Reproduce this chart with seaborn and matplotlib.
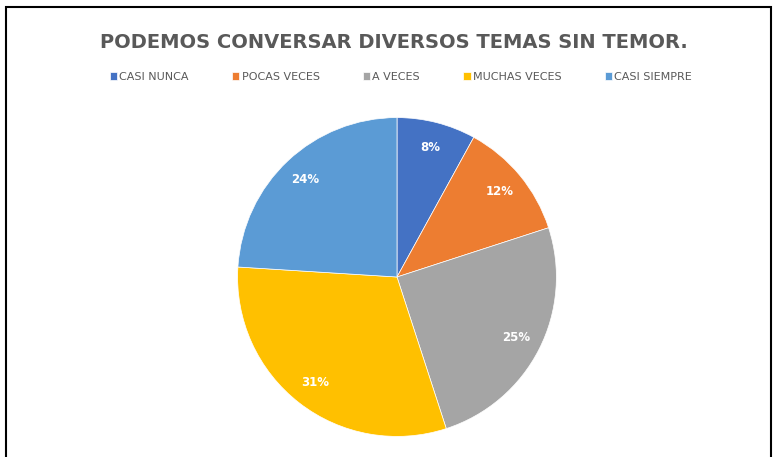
import numpy as np
import pandas as pd
import matplotlib
matplotlib.use("Agg")
import matplotlib.pyplot as plt
import seaborn as sns
from matplotlib.patches import Rectangle

### Data

categories = ["CASI NUNCA", "POCAS VECES", "A VECES", "MUCHAS VECES", "CASI SIEMPRE"]
percentages = [8, 12, 25, 31, 24]
colors = ["#4472C4", "#ED7D31", "#A5A5A5", "#FFC000", "#5B9BD5"]
title = "PODEMOS CONVERSAR DIVERSOS TEMAS SIN TEMOR."

### Plot

sns.set_style("white")
plt.rcParams["font.family"] = ["DejaVu Sans"]

W, H = 774, 457
fig = plt.figure(figsize=(W / 100, H / 100), dpi=100)

# pie centre (397, 277) px, radius ~161 px
cx, cy, r = 397, 277, 161
ax = fig.add_axes([(cx - r) / W, (H - cy - r) / H, 2 * r / W, 2 * r / H])

wedges, texts, autotexts = ax.pie(
    percentages,
    colors=sns.color_palette(colors),
    startangle=90,
    counterclock=False,
    autopct=lambda p: f"{p:.0f}%",
    pctdistance=0.84,
    wedgeprops=dict(edgecolor="white", linewidth=0.5),
    textprops=dict(color="white", fontsize=8.5, fontweight="bold"),
)
ax.set_aspect("equal")
ax.set_xlim(-1.01, 1.01)
ax.set_ylim(-1.01, 1.01)
ax.axis("off")

fig.text(394 / W, 1 - 42 / H, title, ha="center", va="center",
         fontsize=14, fontweight="bold", color="#595959")

leg = fig.legend(wedges, categories, loc="center", bbox_to_anchor=(401 / W, 1 - 77 / H),
                 ncol=5, frameon=False, fontsize=8, handlelength=0.65, handleheight=0.65,
                 handletextpad=0.2, columnspacing=3.9)
for t in leg.get_texts():
    t.set_color("#595959")

# outer frame (top and left edges visible)
fig.patches.append(Rectangle((6 / W, -0.05), 765 / W, 1.05 - 7 / H, transform=fig.transFigure,
                             fill=False, edgecolor="black", linewidth=1.5))

plt.savefig("out.png", dpi=100)
